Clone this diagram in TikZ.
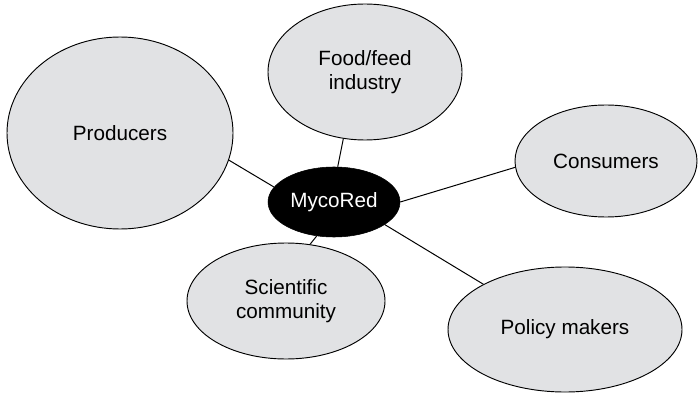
\documentclass[tikz,border=0pt]{standalone}
\usepackage{fontspec}
\setmainfont{Liberation Sans}
\usetikzlibrary{shapes.geometric}
\definecolor{blobfill}{RGB}{225,226,228}
\begin{document}
\begin{tikzpicture}[x=0.75pt,y=-0.75pt,
  font=\fontsize{15.5}{18}\selectfont,
  blob/.style 2 args={ellipse, draw=black, line width=0.7pt, fill=blobfill,
    inner sep=0pt, minimum width=#1*0.75pt, minimum height=#2*0.75pt,
    align=center},
  hub/.style={ellipse, draw=black, fill=black, text=white, inner sep=0pt,
    minimum width=132*0.75pt, minimum height=70*0.75pt},
  link/.style={draw=black, line width=0.75pt}]
\useasboundingbox (0,0) rectangle (698,395);

% stakeholder groups
\node[blob={226}{192}] (prod) at (120,133) {Producers};
\node[blob={194}{136}] (food) at (365,72) {Food/feed\\industry};
\node[blob={182}{112}] (cons) at (606,161) {Consumers};
\node[blob={198}{116}] (sci)  at (286,301) {Scientific\\community};
\node[blob={234}{125}] (pol)  at (565,329.5) {Policy makers};

% central network
\node[hub] (myco) at (334,202) {MycoRed};

% links to the hub
\draw[link] (prod.-14)  -- (myco.166);
\draw[link] (food.-108) -- (myco.84);
\draw[link] (cons.184)  -- (myco.0);
\draw[link] (pol.151)   -- (myco.-24);
\draw[link] (sci.67)    -- (myco.-117);
\end{tikzpicture}
\end{document}
